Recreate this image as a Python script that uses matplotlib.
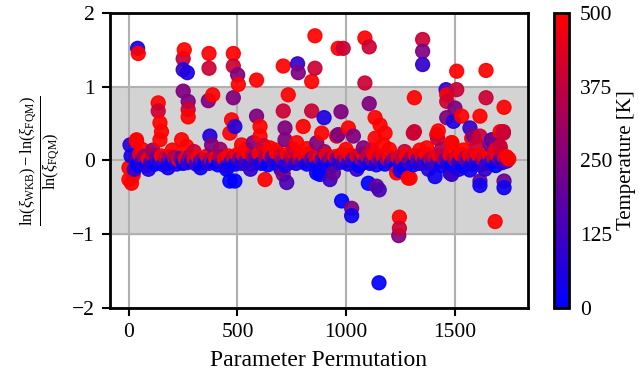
import matplotlib
matplotlib.use("Agg")
import matplotlib.pyplot as plt
import numpy as np
from matplotlib.colors import LinearSegmentedColormap

plt.rcParams['font.family'] = ['Liberation Serif', 'DejaVu Serif']
plt.rcParams['mathtext.fontset'] = 'custom'
plt.rcParams['mathtext.rm'] = 'Liberation Serif'
plt.rcParams['mathtext.it'] = 'Liberation Serif:italic'
plt.rcParams['font.size'] = 15

# dense band of permutations close to zero
band_x = [
    0, 10, 20, 30, 40, 50, 60, 70, 80, 90, 100, 110, 120, 130, 140, 150, 160, 170, 180, 190,
    200, 210, 220, 230, 240, 250, 260, 270, 280, 290, 300, 310, 320, 330, 340, 350, 360, 370, 380, 390,
    400, 410, 420, 430, 440, 450, 460, 470, 480, 490, 500, 510, 520, 530, 540, 550, 560, 570, 580, 590,
    600, 610, 620, 630, 640, 650, 660, 670, 680, 690, 700, 710, 720, 730, 740, 750, 760, 770, 780, 790,
    800, 810, 820, 830, 840, 850, 860, 870, 880, 890, 900, 910, 920, 930, 940, 950, 960, 970, 980, 990,
    1000, 1010, 1020, 1030, 1040, 1050, 1060, 1070, 1080, 1090, 1100, 1110, 1120, 1130, 1140, 1150, 1160, 1170, 1180, 1190,
    1200, 1210, 1220, 1230, 1240, 1250, 1260, 1270, 1280, 1290, 1300, 1310, 1320, 1330, 1340, 1350, 1360, 1370, 1380, 1390,
    1400, 1410, 1420, 1430, 1440, 1450, 1460, 1470, 1480, 1490, 1500, 1510, 1520, 1530, 1540, 1550, 1560, 1570, 1580, 1590,
    1600, 1610, 1620, 1630, 1640, 1650, 1660, 1670, 1680, 1690, 1700, 1710, 1720, 1730, 1740, 1750,
]
band_y = [
    -0.10, 0.06, -0.15, 0.03, -0.06, 0.08, -0.02, 0.05, -0.07, 0.02, -0.04, 0.07, -0.05, 0.03, -0.01, 0.06, -0.06, 0.04, -0.03, 0.05,
    -0.02, 0.04, -0.05, 0.01, 0.03, -0.04, 0.02, -0.03, 0.05, -0.01, 0.02, -0.05, 0.04, -0.02, 0.01, -0.03, 0.06, -0.04, 0.02, -0.02,
    0.03, -0.06, 0.05, -0.03, 0.02, -0.08, 0.06, -0.02, 0.04, -0.05, 0.08, 0.02, -0.04, 0.07, -0.01, 0.10, -0.05, 0.06, 0.03, -0.03,
    0.09, -0.04, 0.12, 0.02, -0.06, 0.07, 0.04, -0.02, 0.10, -0.05, 0.06, 0.01, -0.07, 0.08, -0.03, 0.05, 0.11, -0.04, 0.03, 0.07,
    -0.02, 0.06, -0.05, 0.09, 0.02, -0.03, 0.05, -0.08, 0.04, 0.01, -0.04, 0.07, -0.02, 0.03, -0.06, 0.05, 0.02, -0.03, 0.08, -0.01,
    0.04, -0.05, 0.07, 0.01, -0.03, 0.06, -0.07, 0.03, 0.09, -0.02, 0.05, -0.04, 0.02, 0.08, -0.06, 0.03, -0.01, 0.06, -0.05, 0.02,
    0.05, -0.03, 0.01, -0.08, 0.04, -0.05, 0.02, -0.10, 0.06, -0.02, 0.03, -0.06, 0.07, 0.01, -0.04, 0.05, -0.02, 0.08, -0.03, 0.02,
    -0.05, 0.04, -0.02, 0.06, -0.07, 0.03, 0.01, -0.04, 0.07, -0.06, 0.02, 0.05, -0.03, 0.08, -0.08, 0.03, -0.01, 0.06, -0.05, 0.04,
    -0.03, 0.07, -0.06, 0.02, 0.05, -0.04, 0.08, -0.02, 0.03, -0.07, 0.06, 0.01, -0.03, 0.04, -0.01, 0.02,
]
band_t = [
    500, 40, 500, 120, 0, 450, 80, 300, 20, 500, 100, 380, 0, 200, 60, 500, 30, 420, 150, 260,
    10, 350, 60, 480, 200, 0, 500, 90, 300, 20, 440, 120, 500, 40, 250, 0, 480, 100, 350, 30,
    500, 0, 320, 70, 480, 150, 500, 30, 400, 10, 500, 250, 60, 470, 120, 500, 20, 380, 200, 90,
    500, 50, 460, 300, 0, 500, 180, 80, 500, 20, 420, 250, 40, 500, 110, 350, 480, 60, 300, 500,
    90, 480, 20, 500, 250, 60, 400, 10, 500, 150, 30, 460, 100, 330, 0, 500, 220, 70, 480, 130,
    420, 40, 500, 180, 60, 450, 0, 300, 500, 90, 380, 20, 250, 500, 50, 400, 130, 480, 10, 340,
    500, 70, 260, 20, 450, 100, 380, 0, 500, 150, 300, 40, 480, 200, 60, 430, 110, 500, 30, 360,
    80, 460, 140, 500, 20, 380, 220, 50, 500, 0, 300, 450, 90, 500, 10, 350, 160, 480, 40, 420,
    60, 500, 20, 330, 460, 100, 500, 40, 380, 0, 480, 200, 70, 420, 150, 500,
]

# points a bit further from zero
near_x = [35, 143, 243, 266, 373, 381, 465, 519, 573, 604, 650, 719, 773, 865, 888, 964, 1034, 1134,
          1172, 1080, 711, 865, 942, 1310, 1418, 1487, 1587, 1664, 1725, 1295, 1410, 1571, 1233,
          20, 25, 60, 90, 110, 180, 200, 300, 330, 420, 450, 540, 560, 620, 680, 700, 760, 820, 900,
          920, 1000, 1050, 1120, 1200, 1250, 1270, 1340, 1380, 1440, 1520, 1540, 1640, 1690, 1740]
near_y = [0.26, 0.28, 0.28, 0.19, 0.33, 0.21, 0.37, 0.21, 0.24, 0.33, 0.17, 0.28, 0.24, 0.24, 0.37, 0.35, 0.33, 0.30,
          0.21, 0.17, -0.19, -0.17, -0.17, 0.37, 0.35, 0.24, 0.33, 0.21, 0.37, -0.24, -0.22, -0.13, -0.17,
          -0.20, -0.12, 0.15, -0.12, 0.14, -0.10, 0.14, 0.12, -0.10, 0.15, -0.12, 0.15, -0.12, 0.20, 0.14, -0.12, 0.15, 0.16, 0.12,
          -0.12, 0.15, -0.12, 0.14, 0.15, -0.14, 0.12, 0.14, -0.12, 0.15, -0.12, 0.14, -0.12, 0.14, 0.05]
near_t = [500, 500, 500, 500, 60, 250, 500, 500, 250, 500, 500, 250, 500, 250, 500, 250, 250, 500,
          500, 250, 250, 30, 200, 400, 500, 500, 250, 250, 400, 500, 30, 30, 500,
          500, 100, 500, 60, 300, 30, 500, 400, 20, 300, 30, 500, 100, 400, 500, 80, 400, 500, 300,
          30, 500, 100, 400, 500, 60, 400, 500, 80, 350, 60, 500, 100, 480, 500]

# large deviations
out_x = [40, 43, 255, 250, 250, 269, 250, 273, 273, 273, 135, 135, 143, 150, 35, 5, 369, 369, 386, 366,
         481, 481, 501, 504, 481, 473, 488, 588, 588, 604, 711, 734, 711, 719, 777, 780, 857, 857, 842, 842,
         803, 964, 987, 1087, 1107, 1353, 1353, 1353, 1087, 1107, 977, 899, 1134, 1157, 1180, 1011, 957,
         1315, 1315, 1425, 1461, 1464, 1464, 1510, 1510, 1502, 1464, 1533, 1571, 1617, 1645, 1645, 1617,
         1728, 1725, 1710, 1671, 1710, 1495, 1422, 1487, 1579, 1679, 1710, 1602, 1372,
         488, 465, 627, 727, 12, 0, 1103, 1153, 980, 1026, 1026, 1246, 1246, 1243, 1152, 1687,
         1617, 1617, 1728, 1728, 926, 880, 1287, 1487, 1479, 1141]
out_y = [1.52, 1.45, 1.50, 1.38, 1.23, 1.19, 0.94, 0.80, 0.69, 0.59, 0.78, 0.67, 0.51, 0.39, 0.28, 0.21, 1.45, 1.25, 0.89, 0.81,
         1.45, 1.28, 1.16, 1.03, 0.85, 0.55, 0.46, 1.09, 0.60, 0.46, 1.28, 0.89, 0.67, 0.44, 1.31, 1.19, 1.69, 1.25, 1.07, 0.67,
         0.46, 1.52, 1.52, 1.66, 1.54, 1.64, 1.48, 1.30, 1.05, 0.77, 0.66, 0.58, 0.58, 0.48, 0.37, 0.44, 0.33,
         0.85, 0.39, 0.40, 0.96, 0.89, 0.80, 1.21, 0.96, 0.71, 0.58, 0.60, 0.44, 0.33, 1.22, 0.85, 0.60,
         0.72, 0.39, 0.39, 0.28, 0.17, 0.53, 0.30, 0.24, 0.30, 0.28, 0.19, 0.21, 0.17,
         -0.28, -0.28, -0.26, -0.30, -0.31, -0.26, -0.31, -0.40, -0.55, -0.65, -0.75, -0.77, -0.92, -1.02, -1.66, -0.83,
         -0.28, -0.34, -0.28, -0.37, -0.26, -0.19, -0.24, -0.19, -0.17, -0.35]
out_t = [60, 500, 500, 375, 100, 60, 250, 250, 400, 500, 500, 400, 500, 500, 500, 80, 500, 400, 500, 250,
         500, 400, 250, 500, 250, 500, 80, 500, 250, 500, 500, 500, 400, 250, 100, 250, 500, 400, 500, 400,
         500, 500, 400, 500, 400, 400, 250, 100, 400, 250, 250, 60, 500, 500, 500, 500, 400,
         500, 400, 500, 100, 500, 400, 500, 400, 250, 250, 500, 100, 400, 500, 400, 500,
         500, 400, 500, 60, 400, 60, 400, 500, 500, 250, 400, 400, 500,
         0, 0, 500, 150, 500, 500, 0, 150, 0, 250, 30, 500, 400, 250, 0, 500,
         200, 30, 200, 30, 120, 0, 500, 120, 60, 200]

x = np.array(band_x + near_x + out_x, dtype=float)
y = np.array(band_y + near_y + out_y)
t = np.array(band_t + near_t + out_t, dtype=float)
order = np.argsort(x, kind="stable")

cmap = LinearSegmentedColormap.from_list("blue_red", ["blue", "red"])

fig = plt.figure(figsize=(6.39, 3.81), dpi=100)
ax = fig.add_axes([0.172, 0.192, 0.654, 0.774])
cax = fig.add_axes([0.867, 0.192, 0.0235, 0.774])

ax.axhspan(-1, 1, color="lightgray", zorder=0)
ax.set_axisbelow(True)
ax.grid(True, color="#b0b0b0", lw=1.5)
sc = ax.scatter(x[order], y[order], c=t[order], cmap=cmap, vmin=0, vmax=500,
                s=100, alpha=0.92, zorder=3)

ax.set_ylim(-2, 2)
ax.set_yticks([-2, -1, 0, 1, 2])
ax.set_xticks([0, 500, 1000, 1500])
ax.set_xlabel("Parameter Permutation", fontsize=17, labelpad=6)
ax.set_ylabel(r"$\frac{\ln(\xi_{\mathrm{WKB}})-\ln(\xi_{\mathrm{FQM}})}{\ln(\xi_{\mathrm{FQM}})}$",
              fontsize=17, labelpad=6)
for sp in ax.spines.values():
    sp.set_linewidth(2)
ax.tick_params(direction="out", length=6, width=1.5, labelsize=15.5, pad=5)

cb = fig.colorbar(sc, cax=cax, ticks=[0, 125, 250, 375, 500])
cb.solids.set_alpha(1)
cb.outline.set_linewidth(2)
cb.ax.tick_params(length=0, pad=8, labelsize=15.5)
cb.set_label("Temperature [K]", fontsize=15, labelpad=3)

fig.savefig("out.png", dpi=100)
